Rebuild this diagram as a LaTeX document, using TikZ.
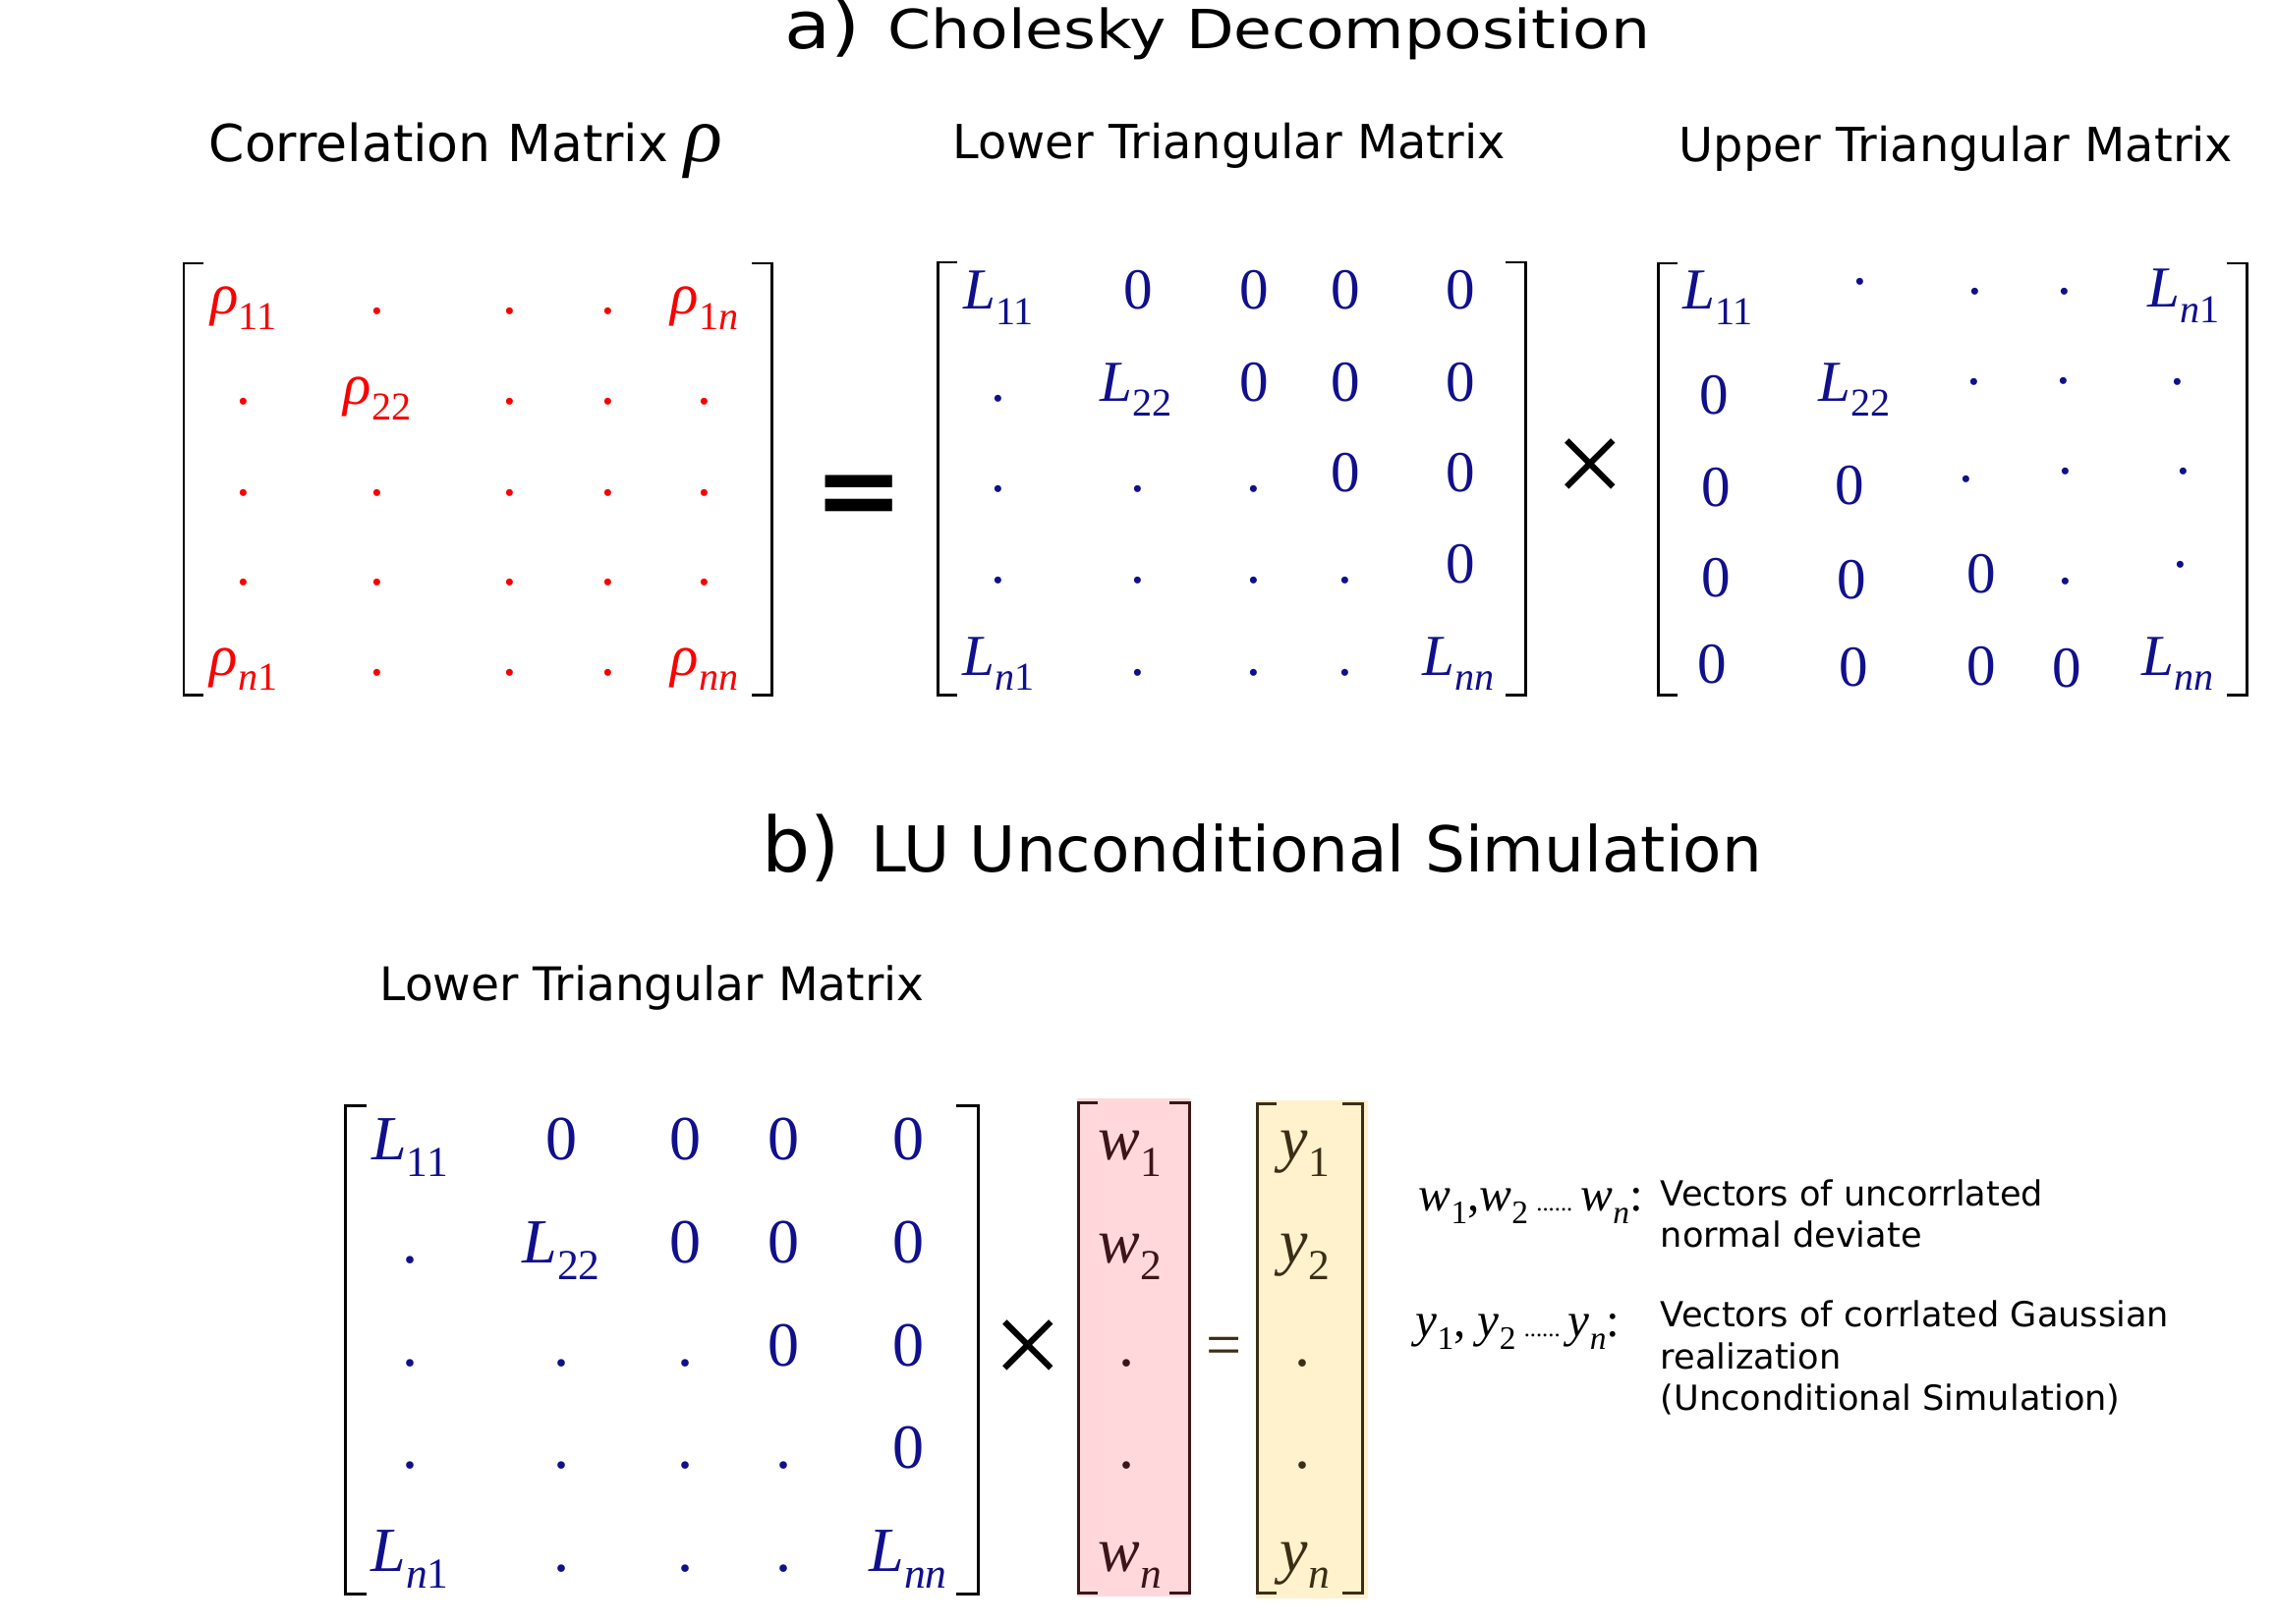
\documentclass[tikz,border=0pt]{standalone}
\usepackage{fontspec}
\usepackage{tikz}
\setmainfont{DejaVu Sans}
\newfontfamily\tms{Liberation Serif}
\newfontfamily\widesans[FakeStretch=1.15]{DejaVu Sans}
\definecolor{lnavy}{RGB}{16,16,140}
\definecolor{rhored}{RGB}{250,0,0}
\definecolor{wpink}{RGB}{255,216,220}
\definecolor{ycream}{RGB}{255,242,204}
\definecolor{wbrown}{RGB}{60,22,22}
\definecolor{ybrown}{RGB}{60,46,22}

\makeatletter
\newcommand\sub[2]{\textit{#1}\raisebox{-0.27em}{\fontsize{\fpeval{round(0.68*\f@size,2)}}{10}\selectfont #2}}
\makeatother

\begin{document}
\begin{tikzpicture}[x=0.01cm,y=-0.01cm,
    brk/.style={line width=0.85pt},
    ent/.style={anchor=base,inner sep=0pt,font=\tms\fontsize{16.8}{19}\selectfont},
    rent/.style={ent,text=rhored},
    lent/.style={ent,text=lnavy},
    bent/.style={ent,text=lnavy,font=\tms\fontsize{18.2}{21}\selectfont},
    vent/.style={bent,text=wbrown},
    yent/.style={bent,text=ybrown},
    lbl/.style={anchor=base west,inner sep=0pt,font=\fontsize{13.6}{16}\selectfont},
    note/.style={anchor=base west,inner sep=0pt,font=\fontsize{10}{12}\selectfont},
    sym/.style={anchor=base west,inner sep=0pt,font=\tms\fontsize{14}{16}\selectfont},
    times/.style={font=\tms\fontsize{36}{38}\selectfont,inner sep=0pt}]
    \useasboundingbox (0,0) rectangle (2316,1652);
    \fill[white] (0,0) rectangle (2316,1652);

    % a) Cholesky
    \node[anchor=base west,inner sep=0pt,font=\widesans\fontsize{19}{22}\selectfont] (markA) at (798,50) {a)};
    \node[anchor=base west,inner sep=0pt,font=\widesans\fontsize{15.6}{18}\selectfont] (ttlA) at (903,50) {Cholesky Decomposition};
    \node[lbl,font=\fontsize{14.8}{17}\selectfont] (hdRho) at (212,165) {Correlation Matrix {\tms\itshape\fontsize{23}{24}\selectfont ρ}};
    \node[lbl] (hdLow) at (969,162) {Lower Triangular Matrix};
    \node[lbl] (hdUp) at (1708,165) {Upper Triangular Matrix};

    % correlation matrix
    \draw[brk] (207,268) -- (187,268) -- (187,707) -- (207,707);
    \draw[brk] (765,268) -- (785,268) -- (785,707) -- (765,707);
    \foreach \x/\e [count=\c] in {248/\sub{ρ}{11},384/.,519/.,619/.,717/\sub{ρ}{1\textit{n}}}
        \node[rent] (r1\c) at (\x,320) {\e};
    \foreach \x/\e [count=\c] in {248/.,384/\sub{ρ}{22},519/.,619/.,717/.}
        \node[rent] (r2\c) at (\x,412) {\e};
    \foreach \x/\e [count=\c] in {248/.,384/.,519/.,619/.,717/.}
        \node[rent] (r3\c) at (\x,504) {\e};
    \foreach \x/\e [count=\c] in {248/.,384/.,519/.,619/.,717/.}
        \node[rent] (r4\c) at (\x,595) {\e};
    \foreach \x/\e [count=\c] in {248/\sub{ρ}{\textit{n}1},384/.,519/.,619/.,717/\sub{ρ}{\textit{nn}}}
        \node[rent] (r5\c) at (\x,687) {\e};

    \node[font=\bfseries\fontsize{31}{34}\selectfont,inner sep=0pt] (eqA) at (874,510) {=};

    % lower triangular
    \draw[brk] (974,267) -- (954,267) -- (954,707) -- (974,707);
    \draw[brk] (1532,267) -- (1552,267) -- (1552,707) -- (1532,707);
    \foreach \x/\e [count=\c] in {1016/\sub{L}{11},1158/0,1276/0,1369/0,1486/0}
        \node[lent] (l1\c) at (\x,315) {\e};
    \foreach \x/\e [count=\c] in {1016/.,1156/\sub{L}{22},1276/0,1369/0,1486/0}
        \node[lent] (l2\c) at (\x,408) {\e};
    \foreach \x/\e [count=\c] in {1016/.,1158/.,1276/.,1369/0,1486/0}
        \node[lent] (l3\c) at (\x,500) {\e};
    \foreach \x/\e [count=\c] in {1016/.,1158/.,1276/.,1369/.,1486/0}
        \node[lent] (l4\c) at (\x,593) {\e};
    \foreach \x/\e [count=\c] in {1016/\sub{L}{\textit{n}1},1158/.,1276/.,1369/.,1484/\sub{L}{\textit{nn}}}
        \node[lent] (l5\c) at (\x,687) {\e};

    \node[times] (mulA) at (1618,481) {×};

    % upper triangular
    \draw[brk] (1707,268) -- (1687,268) -- (1687,707) -- (1707,707);
    \draw[brk] (2266,268) -- (2286,268) -- (2286,707) -- (2266,707);
    \node[lent] (u11) at (1748,315) {\sub{L}{11}};
    \node[lent] (u12) at (1893,290) {.};
    \node[lent] (u13) at (2010,300) {.};
    \node[lent] (u14) at (2101,300) {.};
    \node[lent] (u15) at (2222,313) {\sub{L}{\textit{n}1}};
    \node[lent] (u21) at (1744,421) {0};
    \node[lent] (u22) at (1887,408) {\sub{L}{22}};
    \node[lent] (u23) at (2009,392) {.};
    \node[lent] (u24) at (2100,390) {.};
    \node[lent] (u25) at (2216,392) {.};
    \node[lent] (u31) at (1746,515) {0};
    \node[lent] (u32) at (1882,513) {0};
    \node[lent] (u33) at (2001,490) {.};
    \node[lent] (u34) at (2102,482) {.};
    \node[lent] (u35) at (2222,482) {.};
    \node[lent] (u41) at (1746,607) {0};
    \node[lent] (u42) at (1884,609) {0};
    \node[lent] (u43) at (2016,603) {0};
    \node[lent] (u44) at (2102,594) {.};
    \node[lent] (u45) at (2219,577) {.};
    \node[lent] (u51) at (1742,695) {0};
    \node[lent] (u52) at (1886,698) {0};
    \node[lent] (u53) at (2016,697) {0};
    \node[lent] (u54) at (2103,699) {0};
    \node[lent] (u55) at (2216,687) {\sub{L}{\textit{nn}}};

    % b) LU simulation
    \node[anchor=base west,inner sep=0pt,font=\fontsize{22}{24}\selectfont] (markB) at (775,887) {b)};
    \node[anchor=base west,inner sep=0pt,font=\fontsize{18.3}{20}\selectfont] (ttlB) at (886,887) {LU Unconditional Simulation};
    \node[lbl,font=\fontsize{13.4}{16}\selectfont] (hdLowB) at (386,1018) {Lower Triangular Matrix};

    \draw[brk] (373,1125) -- (351,1125) -- (351,1622) -- (373,1622);
    \draw[brk] (973,1125) -- (995,1125) -- (995,1622) -- (973,1622);
    \foreach \x/\e [count=\c] in {417/\sub{L}{11},571/0,697/0,797/0,924/0}
        \node[bent] (b1\c) at (\x,1180) {\e};
    \foreach \x/\e [count=\c] in {417/.,571/\sub{L}{22},697/0,797/0,924/0}
        \node[bent] (b2\c) at (\x,1285) {\e};
    \foreach \x/\e [count=\c] in {417/.,571/.,697/.,797/0,924/0}
        \node[bent] (b3\c) at (\x,1390) {\e};
    \foreach \x/\e [count=\c] in {417/.,571/.,697/.,797/.,924/0}
        \node[bent] (b4\c) at (\x,1494) {\e};
    \foreach \x/\e [count=\c] in {417/\sub{L}{\textit{n}1},571/.,697/.,797/.,924/\sub{L}{\textit{nn}}}
        \node[bent] (b5\c) at (\x,1599) {\e};

    \node[times] (mulB) at (1046,1378) {×};

    % w and y vectors
    \fill[wpink] (1096,1118) rectangle (1211,1625);
    \fill[ycream] (1278,1120) rectangle (1392,1627);
    \draw[brk,wbrown] (1117,1122) -- (1097,1122) -- (1097,1621) -- (1117,1621);
    \draw[brk,wbrown] (1190,1122) -- (1210,1122) -- (1210,1621) -- (1190,1621);
    \draw[brk,ybrown] (1299,1123) -- (1279,1123) -- (1279,1621) -- (1299,1621);
    \draw[brk,ybrown] (1366,1123) -- (1386,1123) -- (1386,1621) -- (1366,1621);
    \node[vent] (w1) at (1150,1180) {\sub{w}{1}};
    \node[vent] (w2) at (1150,1285) {\sub{w}{2}};
    \node[vent] (w3) at (1146,1390) {.};
    \node[vent] (w4) at (1146,1494) {.};
    \node[vent] (w5) at (1150,1599) {\sub{w}{\textit{n}}};
    \node[yent] (eqB) at (1246,1390) {=};
    \node[yent] (y1) at (1328,1180) {\sub{y}{1}};
    \node[yent] (y2) at (1328,1285) {\sub{y}{2}};
    \node[yent] (y3) at (1325,1390) {.};
    \node[yent] (y4) at (1325,1494) {.};
    \node[yent] (y5) at (1328,1599) {\sub{y}{\textit{n}}};

    % legend
    \node[sym] (legW) at (1443,1232) {\sub{w}{1},\sub{w}{2}\,{\fontsize{7}{8}\selectfont......}\,\sub{w}{\textit{n}}:};
    \node[note] (legW1) at (1689,1227) {Vectors of uncorrlated};
    \node[note] (legW2) at (1689,1269) {normal deviate};
    \node[sym] (legY) at (1440,1360) {\sub{y}{1}, \sub{y}{2}\,{\fontsize{7}{8}\selectfont......}\,\sub{y}{\textit{n}}:};
    \node[note] (legY1) at (1689,1350) {Vectors of corrlated Gaussian};
    \node[note] (legY2) at (1689,1393) {realization};
    \node[note] (legY3) at (1689,1435) {(Unconditional Simulation)};
\end{tikzpicture}
\end{document}
